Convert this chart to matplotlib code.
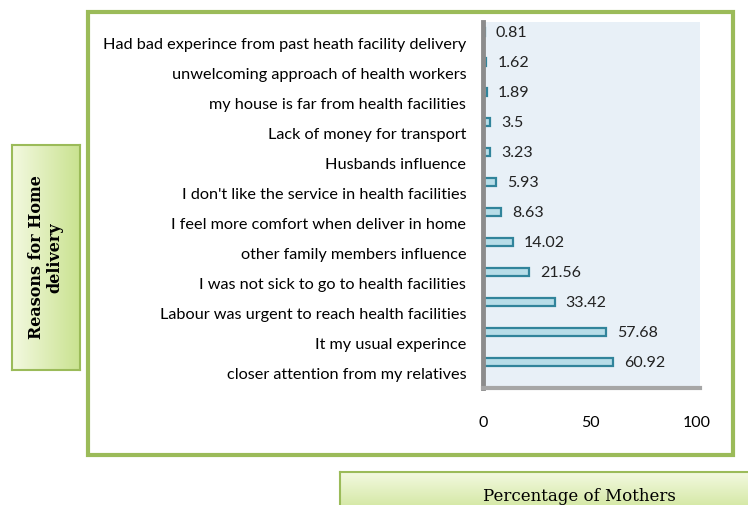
import numpy as np
import matplotlib.pyplot as plt
import matplotlib.transforms as mtransforms
from matplotlib.patches import Rectangle
from matplotlib.colors import LinearSegmentedColormap

# dados, de cima para baixo como na figura
reasons = [
    "Had bad experince from past heath facility delivery",
    "unwelcoming approach of health workers",
    "my house is far from health facilities",
    "Lack of money for transport",
    "Husbands influence",
    "I don't like the service in health facilities",
    "I feel more comfort when deliver in home",
    "other family members influence",
    "I was not sick to go to health facilities",
    "Labour was urgent to reach health facilities",
    "It my usual experince",
    "closer attention from my relatives",
]
percent = [0.81, 1.62, 1.89, 3.5, 3.23, 5.93, 8.63, 14.02, 21.56, 33.42, 57.68, 60.92]
xticks = [0, 50, 100]

W, H = 748, 505


def fx(px):
    return px / W


def fy(py):
    return 1 - py / H


fig = plt.figure(figsize=(W / 100, H / 100), dpi=100)
fig.patch.set_facecolor("white")

# moldura verde do grafico
fig.patches.append(Rectangle((fx(88), fy(455)), fx(733) - fx(88), fy(12) - fy(455),
                             transform=fig.transFigure, fill=False,
                             edgecolor="#9bbb59", linewidth=3, zorder=0))

cmap = LinearSegmentedColormap.from_list("g", ["#f3f9e0", "#c9e28f"])


# caixas dos titulos dos eixos (gradiente verde)
def green_box(x0, y0, x1, y1, horiz):
    grad = np.linspace(0, 1, 100)
    img = np.vstack([grad] * 2) if horiz else np.vstack([grad] * 2).T
    ax_b = fig.add_axes([fx(x0), fy(y1), fx(x1) - fx(x0), fy(y0) - fy(y1)])
    ax_b.imshow(img, aspect="auto", cmap=cmap, extent=[0, 1, 0, 1])
    for s in ax_b.spines.values():
        s.set_color("#9bbb59")
        s.set_linewidth(1.5)
    ax_b.set_xticks([])
    ax_b.set_yticks([])
    return ax_b


axy = green_box(12, 145, 80, 370, horiz=True)
axy.text(0.5, 0.5, "Reasons for Home\ndelivery", rotation=90, ha="center", va="center",
         family="DejaVu Serif", fontsize=11.5, fontweight="bold", linespacing=1.1,
         transform=axy.transAxes)

axx = green_box(340, 472, 760, 520, horiz=False)
axx.text(0.57, 0.48, "Percentage of Mothers", ha="center", va="center",
         family="DejaVu Serif", fontsize=12, transform=axx.transAxes)

# area do grafico
ax = fig.add_axes([fx(483), fy(388), fx(700) - fx(483), fy(22) - fy(388)])
ax.set_facecolor("#e8f0f7")
n = len(reasons)
ypos = np.arange(n)[::-1]
ax.barh(ypos, percent, height=0.25, color="#b7dde8", edgecolor="#31849b", linewidth=1.6)
for y, v in zip(ypos, percent):
    ax.text(v + 5.2, y - 0.03, f"{v}", va="center", ha="left", fontsize=11.5,
            family="Lato", color="#222222")

ax.set_xlim(0, 101.4)
ax.set_ylim(-0.87, 11.33)
ax.set_yticks(ypos)
ax.set_yticklabels(reasons, family="Lato", fontsize=11.7)
ax.set_xticks(xticks)
ax.set_xticklabels([str(t) for t in xticks], family="Lato", fontsize=11.5)
ax.tick_params(axis="y", length=0, pad=12)
ax.tick_params(axis="x", length=0, pad=20)
# rotulos das categorias ficam um pouco abaixo das barras (efeito 3D)
shift = mtransforms.ScaledTranslation(0, -12 / 100, fig.dpi_scale_trans)
for lab in ax.get_yticklabels():
    lab.set_transform(lab.get_transform() + shift)
for s in ["top", "right"]:
    ax.spines[s].set_visible(False)
ax.spines["left"].set_color("#8c8c8c")
ax.spines["left"].set_linewidth(3.5)
ax.spines["bottom"].set_color("#a6a6a6")
ax.spines["bottom"].set_linewidth(3)

fig.savefig("out.png", dpi=100)
